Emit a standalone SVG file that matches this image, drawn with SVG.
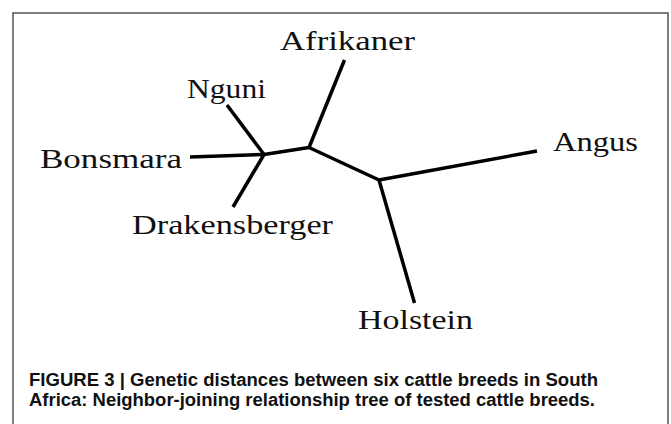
<svg xmlns="http://www.w3.org/2000/svg" width="671" height="424" viewBox="0 0 671 424">
<style>
.lbl{font-family:"Liberation Serif","Times New Roman",serif;font-size:27px;fill:#111}
.br{stroke:#000;stroke-width:3.5;fill:none;stroke-linecap:butt;stroke-linejoin:round}
.cap{font-family:"Liberation Sans",Arial,sans-serif;font-weight:bold;font-size:17.5px;fill:#111}
</style>
<rect x="0" y="0" width="671" height="424" fill="#fff"/>
<rect x="13" y="13" width="655" height="420" fill="none" stroke="#555" stroke-width="1.5"/>
<g id="connectors">
<path class="br" d="M190,157 L264,154.5"/>
<path class="br" d="M227,105 L264,154.5"/>
<path class="br" d="M233,207 L264,154.5"/>
<path class="br" d="M264,154.5 L309,147.5"/>
<path class="br" d="M344.5,60 L309,147.5"/>
<path class="br" d="M309,147.5 L379,180"/>
<path class="br" d="M379,180 L537,151"/>
<path class="br" d="M379,180 L414.5,303"/>
</g>
<g id="afrikaner"><text class="lbl" x="280" y="49.5" textLength="135" lengthAdjust="spacingAndGlyphs">Afrikaner</text></g>
<g id="nguni"><text class="lbl" x="187" y="97.5" textLength="79" lengthAdjust="spacingAndGlyphs">Nguni</text></g>
<g id="bonsmara"><text class="lbl" x="40" y="167.5" textLength="142" lengthAdjust="spacingAndGlyphs">Bonsmara</text></g>
<g id="drakensberger"><text class="lbl" x="132" y="234.3" textLength="201" lengthAdjust="spacingAndGlyphs">Drakensberger</text></g>
<g id="angus"><text class="lbl" x="553" y="151" textLength="85" lengthAdjust="spacingAndGlyphs">Angus</text></g>
<g id="holstein"><text class="lbl" x="358" y="329.3" textLength="115" lengthAdjust="spacingAndGlyphs">Holstein</text></g>
<g id="caption">
<text class="cap" x="29" y="386" textLength="569" lengthAdjust="spacingAndGlyphs">FIGURE 3 | Genetic distances between six cattle breeds in South</text>
<text class="cap" x="29" y="405.5" textLength="566" lengthAdjust="spacingAndGlyphs">Africa: Neighbor-joining relationship tree of tested cattle breeds.</text>
</g>
</svg>
